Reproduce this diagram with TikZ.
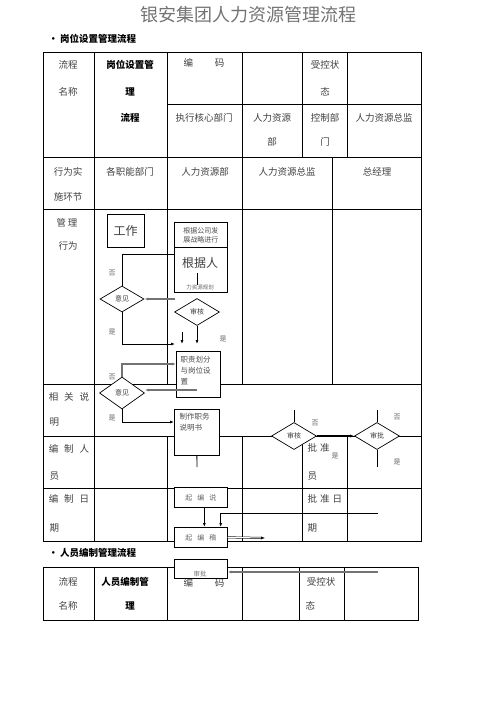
\documentclass[tikz,border=0pt]{standalone}
\usepackage{fontspec}
\setmainfont{Noto Sans CJK SC}
\usetikzlibrary{calc,arrows.meta,positioning,shapes.geometric}

\begin{document}
\begin{tikzpicture}[
    x=1pt,
    y=-1pt,
    >={Latex[length=4pt,width=3pt]},
    every node/.style={font=\fontsize{9.5}{11}\selectfont},
    cell/.style={text=black!75},
    cellb/.style={text=black, font=\bfseries\fontsize{9.5}{11}\selectfont},
    grid/.style={line width=0.8pt},
    box/.style={draw, fill=white, line width=0.7pt, inner sep=0pt},
    decision/.style={diamond, draw, fill=white, line width=0.7pt,
        inner sep=0pt, text=black!75, font=\fontsize{7}{8}\selectfont},
    boxtext/.style={anchor=north west, align=left, text=black!70,
        font=\fontsize{7.5}{11}\selectfont},
    yesno/.style={text=black!60, font=\fontsize{7}{8}\selectfont},
    link/.style={line width=0.8pt},
    greyflow/.style={->, line width=1.2pt, draw=black!55}
]
\useasboundingbox (0,0) rectangle (496,702);

% Title and headings
\node[text=black!55, font=\fontsize{18}{21}\selectfont] (title)
    at (248,15) {银安集团人力资源管理流程};
\node[cellb, anchor=west] (head1) at (45,39) {• 岗位设置管理流程};
\node[cellb, anchor=west] (head2) at (45,553) {• 人员编制管理流程};

% Table 1
\draw[grid] (43,52) rectangle (421,541);
\foreach \y in {157,209,384,436,488}
    \draw[grid] (43,\y) -- (421,\y);
\draw[grid] (167,104) -- (421,104);
\draw[grid] (94,52) -- (94,541);
\foreach \x in {167,242} {
    \draw[grid] (\x,52) -- (\x,384);
    \draw[grid] (\x,436) -- (\x,541);
}
\foreach \x in {302,347} {
    \draw[grid] (\x,52) -- (\x,157);
    \draw[grid] (\x,436) -- (\x,541);
}
\draw[grid] (332,157) -- (332,384);

% Table 2
\draw[grid] (43,567) rectangle (418,620);
\foreach \x in {94,167,242,299,344}
    \draw[grid] (\x,567) -- (\x,620);

% Cell texts, table 1
\node[cell] (nameA) at (68,65) {流程};
\node[cell] (nameB) at (68,92) {名称};
\node[cellb] (procA) at (130,65) {岗位设置管};
\node[cellb] (procB) at (130,92) {理};
\node[cellb] (procC) at (130,118) {流程};
\node[cell] (code) at (204,63) {编\hspace{22pt}码};
\node[cell] (stateA) at (325,65) {受控状};
\node[cell] (stateB) at (325,92) {态};
\node[cell] (exec) at (204,118) {执行核心部门};
\node[cell] (hrA) at (272,118) {人力资源};
\node[cell] (hrB) at (272,142) {部};
\node[cell] (ctrlA) at (325,118) {控制部};
\node[cell] (ctrlB) at (325,142) {门};
\node[cell] (hrdir) at (384,118) {人力资源总监};
\node[cell] (actA) at (68,172) {行为实};
\node[cell] (actB) at (68,197) {施环节};
\node[cell] (dept) at (130,172) {各职能部门};
\node[cell] (hrdept) at (205,172) {人力资源部};
\node[cell] (hrhead) at (287,172) {人力资源总监};
\node[cell] (gm) at (377,172) {总经理};
\node[cell] (mgmtA) at (67,223) {管\hspace{2pt}理};
\node[cell] (mgmtB) at (68,246) {行为};
\node[cell] (noteA) at (69,397) {相\hspace{6pt}关\hspace{6pt}说};
\node[cell, anchor=west] (noteB) at (46,422) {明};
\node[cell] (staffA) at (69,449) {编\hspace{6pt}制\hspace{6pt}人};
\node[cell, anchor=west] (staffB) at (46,476) {员};
\node[cell] (dateA) at (69,499) {编\hspace{6pt}制\hspace{6pt}日};
\node[cell, anchor=west] (dateB) at (46,528) {期};
\node[cell, anchor=west] (apprA) at (304,448) {批\hspace{3pt}准};
\node[cell, anchor=west] (apprB) at (304,476) {员};
\node[cell, anchor=west] (apprC) at (304,499) {批\hspace{3pt}准\hspace{3pt}日};
\node[cell, anchor=west] (apprD) at (304,528) {期};

% Cell texts, table 2
\node[cell] (name2A) at (68,582) {流程};
\node[cell] (name2B) at (68,606) {名称};
\node[cellb] (proc2A) at (125,582) {人员编制管};
\node[cellb] (proc2B) at (130,606) {理};
\node[cell] (code2) at (204,583) {编\hspace{22pt}码};
\node[cell] (state2A) at (321,582) {受控状};
\node[cell, anchor=west] (state2B) at (302,606) {态};

% Flow boxes
\node[box, minimum width=37, minimum height=33, text=black!75,
    font=\fontsize{12}{14}\selectfont] (work) at (125.5,230.5) {工作};
\node[box, minimum width=53, minimum height=25, anchor=north west,
    align=center, text=black!70, font=\fontsize{7}{9}\selectfont]
    (plan) at (174,222) {根据公司发\\展战略进行};
\node[box, line width=1.1pt, minimum width=53, minimum height=45,
    anchor=north west] (base) at (174,247) {};
\node[text=black!75, font=\fontsize{12}{14}\selectfont] (basetxt)
    at (200,263) {根据人};
\node[text=black!60, font=\fontsize{5.5}{6}\selectfont] (basesub)
    at (200,287) {力资源规划};
\draw[link] (197,273) -- (197,285);

\node[decision, minimum width=44, minimum height=26] (view1) at (122,299) {意见};
\node[decision, minimum width=45, minimum height=27] (check1) at (197,312) {审核};
\node[box, minimum width=44, minimum height=46, anchor=north west]
    (duty) at (176,351) {};
\node[boxtext] (dutytxt) at (177,353) {职责划分\\与岗位设\\置};
\node[decision, minimum width=45, minimum height=32] (view2) at (122,393) {意见};
\node[box, minimum width=45, minimum height=46, anchor=north west]
    (desc) at (174,409) {};
\node[boxtext] (desctxt) at (176,410) {制作职务\\说明书};
\node[decision, minimum width=45, minimum height=27] (check2) at (294,436) {审核};
\node[decision, minimum width=45, minimum height=27] (approve) at (377,436) {审批};

\node[box, minimum width=53, minimum height=20, anchor=north west,
    text=black!60, font=\fontsize{7}{8}\selectfont]
    (draftA) at (174,487) {起\hspace{5pt}编\hspace{5pt}说};
\node[box, minimum width=53, minimum height=20, anchor=north west,
    text=black!60, font=\fontsize{7}{8}\selectfont]
    (draftB) at (174,527) {起\hspace{5pt}编\hspace{5pt}稿};
\node[box, minimum width=53, minimum height=19, anchor=north west]
    (final) at (174,559) {};
\node[text=black!55, font=\fontsize{6.5}{7}\selectfont] (finaltxt)
    at (200,574) {审批};

% Yes / no marks
\node[yesno] (no1) at (112,273) {否};
\node[yesno] (yes1) at (112,332) {是};
\node[yesno] (yes2) at (223,339) {是};
\node[yesno] (no2) at (112,377) {否};
\node[yesno] (yes3) at (112,418) {是};
\node[yesno] (no3) at (315,423) {否};
\node[yesno] (yes4) at (335,456) {是};
\node[yesno] (no4) at (397,417) {否};
\node[yesno] (yes5) at (397,462) {是};

% Free ends
\coordinate (top1) at (174,254);
\coordinate (in1) at (175,299);
\coordinate (j1) at (175,344);
\coordinate (j2) at (182,332);
\coordinate (j2e) at (182,344);
\coordinate (dutyin) at (176,364);
\coordinate (in2) at (197,390);
\coordinate (descin) at (174,422);
\coordinate (dn1) at (197,467);
\coordinate (up2) at (294,410);
\coordinate (up3) at (377,410);
\coordinate (dn3) at (377,467);
\coordinate (back) at (378,513);
\coordinate (out1) at (265,538);
\coordinate (back2) at (378,572);

% Connectors
\draw[link] (view1.north) |- (top1);
\draw[greyflow] (in1) -- (view1.east);
\draw[link,->] (view1.south) |- (j1);
\draw[link,->] (j2) -- (j2e);
\draw[link,->] (check1.south) -- (check1.south |- j1);
\draw[greyflow] (view2.north) |- (dutyin);
\draw[greyflow] (in2) -- (in2 -| view2.east);
\draw[link,->] (view2.south) |- (descin);
\draw[link] (desc.south) -- (dn1);
\draw[link] (up2) -- (check2.north);
\draw[->, line width=1.4pt] (check2.east) -- (approve.west);
\draw[link] (up3) -- (approve.north);
\draw[link] (approve.south) -- (dn3);
\draw[link,->] ($(draftA.south)+(3.5,0)$) -- ($(draftB.north)+(3.5,0)$);
\draw[link,->] (back) -| ($(draftB.north east)+(-7,0)$);
\draw[->, double, double distance=1pt, line width=0.5pt] (draftB.east) -- (out1);
\draw[greyflow] (back2) -- (back2 -| final.east);

\end{tikzpicture}
\end{document}
